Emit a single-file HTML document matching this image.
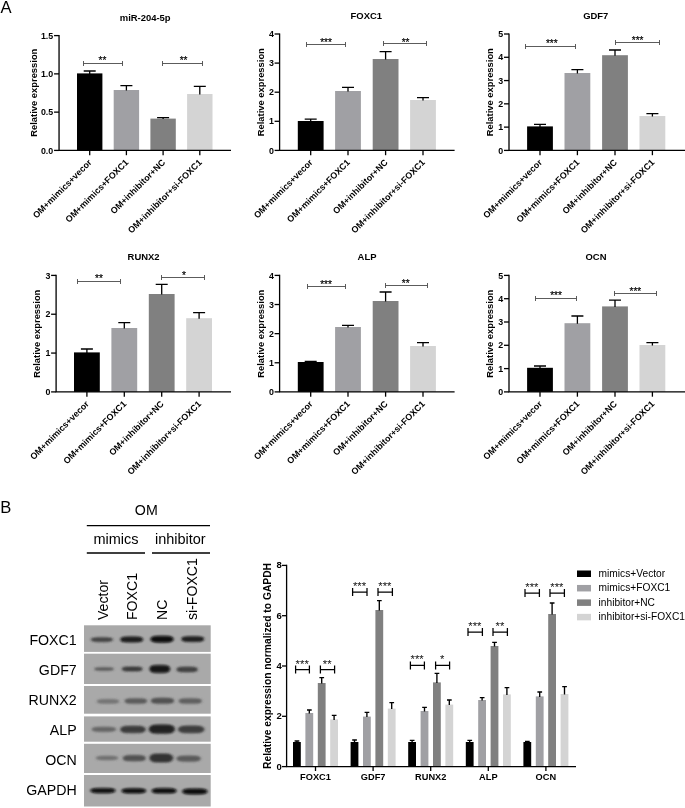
<!DOCTYPE html>
<html lang="en"><head><meta charset="utf-8"><title>Figure</title>
<style>
html,body{margin:0;padding:0;background:#fff;}
body{width:685px;height:808px;overflow:hidden;}
svg{display:block;}
text{font-family:"Liberation Sans", sans-serif;fill:#000;}
.b{font-weight:bold;}
.r{font-weight:normal;}
.s{font-weight:normal;fill:#000;stroke:#000;stroke-width:0.18px;}
.s2{font-weight:normal;fill:#111;}
</style></head><body>
<svg width="685" height="808" viewBox="0 0 685 808">
<defs><filter id="bl" x="-5%" y="-5%" width="110%" height="110%"><feGaussianBlur stdDeviation="1.0 0.85"/></filter><filter id="bl2" x="-5%" y="-5%" width="110%" height="110%"><feGaussianBlur stdDeviation="1.6 1.2"/></filter></defs>
<rect width="685" height="808" fill="#fff"/>
<rect x="77.00" y="73.40" width="25.40" height="77.00" fill="#000000"/>
<path d="M89.70 73.90V71.00M83.70 71.00H95.70" stroke="#000" stroke-width="1.3" fill="none"/>
<rect x="113.70" y="90.00" width="25.40" height="60.40" fill="#a0a0a4"/>
<path d="M126.40 90.50V85.60M120.40 85.60H132.40" stroke="#000" stroke-width="1.3" fill="none"/>
<rect x="150.40" y="118.60" width="25.40" height="31.80" fill="#808080"/>
<path d="M163.10 119.10V117.60M157.10 117.60H169.10" stroke="#000" stroke-width="1.3" fill="none"/>
<rect x="187.10" y="94.00" width="25.40" height="56.40" fill="#d4d4d4"/>
<path d="M199.80 94.50V86.40M193.80 86.40H205.80" stroke="#000" stroke-width="1.3" fill="none"/>
<path d="M59.05 35.00V150.40M58.40 150.40H231.00" stroke="#000" stroke-width="1.3" fill="none"/>
<path d="M54.05 150.40H59.05" stroke="#000" stroke-width="1.3"/>
<text x="53.25" y="153.50" text-anchor="end" class="b" font-size="8.85">0.0</text>
<path d="M54.05 112.13H59.05" stroke="#000" stroke-width="1.3"/>
<text x="53.25" y="115.23" text-anchor="end" class="b" font-size="8.85">0.5</text>
<path d="M54.05 73.87H59.05" stroke="#000" stroke-width="1.3"/>
<text x="53.25" y="76.97" text-anchor="end" class="b" font-size="8.85">1.0</text>
<path d="M54.05 35.60H59.05" stroke="#000" stroke-width="1.3"/>
<text x="53.25" y="38.70" text-anchor="end" class="b" font-size="8.85">1.5</text>
<path d="M89.70 150.40V155.20" stroke="#000" stroke-width="1.3"/>
<path d="M126.40 150.40V155.20" stroke="#000" stroke-width="1.3"/>
<path d="M163.10 150.40V155.20" stroke="#000" stroke-width="1.3"/>
<path d="M199.80 150.40V155.20" stroke="#000" stroke-width="1.3"/>
<text transform="translate(92.30,163.00) rotate(-45)" text-anchor="end" class="b" font-size="8.9">OM+mimics+vecor</text>
<text transform="translate(129.00,163.00) rotate(-45)" text-anchor="end" class="b" font-size="8.9">OM+mimics+FOXC1</text>
<text transform="translate(165.70,163.00) rotate(-45)" text-anchor="end" class="b" font-size="8.9">OM+inhibitor+NC</text>
<text transform="translate(202.40,163.00) rotate(-45)" text-anchor="end" class="b" font-size="8.9">OM+inhibitor+si-FOXC1</text>
<text transform="translate(36.70,92.70) rotate(-90)" text-anchor="middle" class="b" font-size="9.4">Relative expression</text>
<text x="145.20" y="21.20" text-anchor="middle" class="b" font-size="9.45">miR-204-5p</text>
<path d="M83.50 63.50H122.50M83.50 61.00V66.00M122.50 61.00V66.00" stroke="#4a4a4a" stroke-width="0.9" fill="none"/>
<text x="102.40" y="63.77" text-anchor="middle" class="s" font-size="10">**</text>
<path d="M162.50 63.50H202.50M162.50 61.00V66.00M202.50 61.00V66.00" stroke="#4a4a4a" stroke-width="0.9" fill="none"/>
<text x="183.60" y="63.77" text-anchor="middle" class="s" font-size="10">**</text>
<rect x="297.80" y="121.00" width="25.80" height="29.40" fill="#000000"/>
<path d="M310.70 121.50V119.20M304.70 119.20H316.70" stroke="#000" stroke-width="1.3" fill="none"/>
<rect x="335.10" y="91.00" width="25.80" height="59.40" fill="#a0a0a4"/>
<path d="M348.00 91.50V87.40M342.00 87.40H354.00" stroke="#000" stroke-width="1.3" fill="none"/>
<rect x="372.70" y="59.00" width="25.80" height="91.40" fill="#808080"/>
<path d="M385.60 59.50V51.60M379.60 51.60H391.60" stroke="#000" stroke-width="1.3" fill="none"/>
<rect x="410.10" y="100.00" width="25.80" height="50.40" fill="#d4d4d4"/>
<path d="M423.00 100.50V97.60M417.00 97.60H429.00" stroke="#000" stroke-width="1.3" fill="none"/>
<path d="M279.60 33.40V150.40M278.95 150.40H454.60" stroke="#000" stroke-width="1.3" fill="none"/>
<path d="M274.60 150.40H279.60" stroke="#000" stroke-width="1.3"/>
<text x="273.80" y="153.50" text-anchor="end" class="b" font-size="8.85">0</text>
<path d="M274.60 121.30H279.60" stroke="#000" stroke-width="1.3"/>
<text x="273.80" y="124.40" text-anchor="end" class="b" font-size="8.85">1</text>
<path d="M274.60 92.20H279.60" stroke="#000" stroke-width="1.3"/>
<text x="273.80" y="95.30" text-anchor="end" class="b" font-size="8.85">2</text>
<path d="M274.60 63.10H279.60" stroke="#000" stroke-width="1.3"/>
<text x="273.80" y="66.20" text-anchor="end" class="b" font-size="8.85">3</text>
<path d="M274.60 34.00H279.60" stroke="#000" stroke-width="1.3"/>
<text x="273.80" y="37.10" text-anchor="end" class="b" font-size="8.85">4</text>
<path d="M310.70 150.40V155.20" stroke="#000" stroke-width="1.3"/>
<path d="M348.00 150.40V155.20" stroke="#000" stroke-width="1.3"/>
<path d="M385.60 150.40V155.20" stroke="#000" stroke-width="1.3"/>
<path d="M423.00 150.40V155.20" stroke="#000" stroke-width="1.3"/>
<text transform="translate(313.30,163.00) rotate(-45)" text-anchor="end" class="b" font-size="8.9">OM+mimics+vecor</text>
<text transform="translate(350.60,163.00) rotate(-45)" text-anchor="end" class="b" font-size="8.9">OM+mimics+FOXC1</text>
<text transform="translate(388.20,163.00) rotate(-45)" text-anchor="end" class="b" font-size="8.9">OM+inhibitor+NC</text>
<text transform="translate(425.60,163.00) rotate(-45)" text-anchor="end" class="b" font-size="8.9">OM+inhibitor+si-FOXC1</text>
<text transform="translate(264.30,92.20) rotate(-90)" text-anchor="middle" class="b" font-size="9.4">Relative expression</text>
<text x="366.30" y="19.00" text-anchor="middle" class="b" font-size="9.45">FOXC1</text>
<path d="M306.50 44.50H345.50M306.50 42.00V47.00M345.50 42.00V47.00" stroke="#4a4a4a" stroke-width="0.9" fill="none"/>
<text x="326.00" y="46.38" text-anchor="middle" class="s" font-size="10">***</text>
<path d="M383.50 43.50H426.50M383.50 41.00V46.00M426.50 41.00V46.00" stroke="#4a4a4a" stroke-width="0.9" fill="none"/>
<text x="405.60" y="45.88" text-anchor="middle" class="s" font-size="10">**</text>
<rect x="527.10" y="126.40" width="25.80" height="24.00" fill="#000000"/>
<path d="M540.00 126.90V124.40M534.00 124.40H546.00" stroke="#000" stroke-width="1.3" fill="none"/>
<rect x="564.50" y="73.00" width="25.80" height="77.40" fill="#a0a0a4"/>
<path d="M577.40 73.50V69.60M571.40 69.60H583.40" stroke="#000" stroke-width="1.3" fill="none"/>
<rect x="602.10" y="55.20" width="25.80" height="95.20" fill="#808080"/>
<path d="M615.00 55.70V50.00M609.00 50.00H621.00" stroke="#000" stroke-width="1.3" fill="none"/>
<rect x="639.50" y="116.00" width="25.80" height="34.40" fill="#d4d4d4"/>
<path d="M652.40 116.50V113.60M646.40 113.60H658.40" stroke="#000" stroke-width="1.3" fill="none"/>
<path d="M509.00 33.40V150.40M508.35 150.40H685.00" stroke="#000" stroke-width="1.3" fill="none"/>
<path d="M504.00 150.40H509.00" stroke="#000" stroke-width="1.3"/>
<text x="503.20" y="153.50" text-anchor="end" class="b" font-size="8.85">0</text>
<path d="M504.00 127.12H509.00" stroke="#000" stroke-width="1.3"/>
<text x="503.20" y="130.22" text-anchor="end" class="b" font-size="8.85">1</text>
<path d="M504.00 103.84H509.00" stroke="#000" stroke-width="1.3"/>
<text x="503.20" y="106.94" text-anchor="end" class="b" font-size="8.85">2</text>
<path d="M504.00 80.56H509.00" stroke="#000" stroke-width="1.3"/>
<text x="503.20" y="83.66" text-anchor="end" class="b" font-size="8.85">3</text>
<path d="M504.00 57.28H509.00" stroke="#000" stroke-width="1.3"/>
<text x="503.20" y="60.38" text-anchor="end" class="b" font-size="8.85">4</text>
<path d="M504.00 34.00H509.00" stroke="#000" stroke-width="1.3"/>
<text x="503.20" y="37.10" text-anchor="end" class="b" font-size="8.85">5</text>
<path d="M540.00 150.40V155.20" stroke="#000" stroke-width="1.3"/>
<path d="M577.40 150.40V155.20" stroke="#000" stroke-width="1.3"/>
<path d="M615.00 150.40V155.20" stroke="#000" stroke-width="1.3"/>
<path d="M652.40 150.40V155.20" stroke="#000" stroke-width="1.3"/>
<text transform="translate(542.60,163.00) rotate(-45)" text-anchor="end" class="b" font-size="8.9">OM+mimics+vecor</text>
<text transform="translate(580.00,163.00) rotate(-45)" text-anchor="end" class="b" font-size="8.9">OM+mimics+FOXC1</text>
<text transform="translate(617.60,163.00) rotate(-45)" text-anchor="end" class="b" font-size="8.9">OM+inhibitor+NC</text>
<text transform="translate(655.00,163.00) rotate(-45)" text-anchor="end" class="b" font-size="8.9">OM+inhibitor+si-FOXC1</text>
<text transform="translate(493.30,92.20) rotate(-90)" text-anchor="middle" class="b" font-size="9.4">Relative expression</text>
<text x="595.80" y="19.00" text-anchor="middle" class="b" font-size="9.45">GDF7</text>
<path d="M525.50 46.50H575.50M525.50 44.00V49.00M575.50 44.00V49.00" stroke="#4a4a4a" stroke-width="0.9" fill="none"/>
<text x="551.80" y="46.77" text-anchor="middle" class="s" font-size="10">***</text>
<path d="M615.50 42.50H659.50M615.50 40.00V45.00M659.50 40.00V45.00" stroke="#4a4a4a" stroke-width="0.9" fill="none"/>
<text x="637.60" y="44.38" text-anchor="middle" class="s" font-size="10">***</text>
<rect x="74.00" y="352.40" width="25.80" height="39.50" fill="#000000"/>
<path d="M86.90 352.90V349.00M80.90 349.00H92.90" stroke="#000" stroke-width="1.3" fill="none"/>
<rect x="111.40" y="328.00" width="25.80" height="63.90" fill="#a0a0a4"/>
<path d="M124.30 328.50V322.60M118.30 322.60H130.30" stroke="#000" stroke-width="1.3" fill="none"/>
<rect x="148.80" y="294.00" width="25.80" height="97.90" fill="#808080"/>
<path d="M161.70 294.50V284.40M155.70 284.40H167.70" stroke="#000" stroke-width="1.3" fill="none"/>
<rect x="186.20" y="318.20" width="25.80" height="73.70" fill="#d4d4d4"/>
<path d="M199.10 318.70V312.60M193.10 312.60H205.10" stroke="#000" stroke-width="1.3" fill="none"/>
<path d="M56.10 274.80V391.90M55.45 391.90H231.00" stroke="#000" stroke-width="1.3" fill="none"/>
<path d="M51.10 391.90H56.10" stroke="#000" stroke-width="1.3"/>
<text x="50.30" y="395.00" text-anchor="end" class="b" font-size="8.85">0</text>
<path d="M51.10 353.07H56.10" stroke="#000" stroke-width="1.3"/>
<text x="50.30" y="356.17" text-anchor="end" class="b" font-size="8.85">1</text>
<path d="M51.10 314.23H56.10" stroke="#000" stroke-width="1.3"/>
<text x="50.30" y="317.33" text-anchor="end" class="b" font-size="8.85">2</text>
<path d="M51.10 275.40H56.10" stroke="#000" stroke-width="1.3"/>
<text x="50.30" y="278.50" text-anchor="end" class="b" font-size="8.85">3</text>
<path d="M86.90 391.90V396.70" stroke="#000" stroke-width="1.3"/>
<path d="M124.30 391.90V396.70" stroke="#000" stroke-width="1.3"/>
<path d="M161.70 391.90V396.70" stroke="#000" stroke-width="1.3"/>
<path d="M199.10 391.90V396.70" stroke="#000" stroke-width="1.3"/>
<text transform="translate(89.50,404.50) rotate(-45)" text-anchor="end" class="b" font-size="8.9">OM+mimics+vecor</text>
<text transform="translate(126.90,404.50) rotate(-45)" text-anchor="end" class="b" font-size="8.9">OM+mimics+FOXC1</text>
<text transform="translate(164.30,404.50) rotate(-45)" text-anchor="end" class="b" font-size="8.9">OM+inhibitor+NC</text>
<text transform="translate(201.70,404.50) rotate(-45)" text-anchor="end" class="b" font-size="8.9">OM+inhibitor+si-FOXC1</text>
<text transform="translate(40.30,333.70) rotate(-90)" text-anchor="middle" class="b" font-size="9.4">Relative expression</text>
<text x="143.60" y="260.00" text-anchor="middle" class="b" font-size="9.45">RUNX2</text>
<path d="M77.50 281.50H120.50M77.50 279.00V284.00M120.50 279.00V284.00" stroke="#4a4a4a" stroke-width="0.9" fill="none"/>
<text x="99.00" y="281.88" text-anchor="middle" class="s" font-size="10">**</text>
<path d="M161.50 277.50H204.50M161.50 275.00V280.00M204.50 275.00V280.00" stroke="#4a4a4a" stroke-width="0.9" fill="none"/>
<text x="184.00" y="278.57" text-anchor="middle" class="s" font-size="10">*</text>
<rect x="297.80" y="362.00" width="25.80" height="29.90" fill="#000000"/>
<path d="M310.70 362.50V361.40M304.70 361.40H316.70" stroke="#000" stroke-width="1.3" fill="none"/>
<rect x="335.10" y="327.00" width="25.80" height="64.90" fill="#a0a0a4"/>
<path d="M348.00 327.50V325.40M342.00 325.40H354.00" stroke="#000" stroke-width="1.3" fill="none"/>
<rect x="372.70" y="301.00" width="25.80" height="90.90" fill="#808080"/>
<path d="M385.60 301.50V292.00M379.60 292.00H391.60" stroke="#000" stroke-width="1.3" fill="none"/>
<rect x="410.10" y="346.00" width="25.80" height="45.90" fill="#d4d4d4"/>
<path d="M423.00 346.50V342.60M417.00 342.60H429.00" stroke="#000" stroke-width="1.3" fill="none"/>
<path d="M279.60 274.80V391.90M278.95 391.90H454.60" stroke="#000" stroke-width="1.3" fill="none"/>
<path d="M274.60 391.90H279.60" stroke="#000" stroke-width="1.3"/>
<text x="273.80" y="395.00" text-anchor="end" class="b" font-size="8.85">0</text>
<path d="M274.60 362.77H279.60" stroke="#000" stroke-width="1.3"/>
<text x="273.80" y="365.88" text-anchor="end" class="b" font-size="8.85">1</text>
<path d="M274.60 333.65H279.60" stroke="#000" stroke-width="1.3"/>
<text x="273.80" y="336.75" text-anchor="end" class="b" font-size="8.85">2</text>
<path d="M274.60 304.52H279.60" stroke="#000" stroke-width="1.3"/>
<text x="273.80" y="307.62" text-anchor="end" class="b" font-size="8.85">3</text>
<path d="M274.60 275.40H279.60" stroke="#000" stroke-width="1.3"/>
<text x="273.80" y="278.50" text-anchor="end" class="b" font-size="8.85">4</text>
<path d="M310.70 391.90V396.70" stroke="#000" stroke-width="1.3"/>
<path d="M348.00 391.90V396.70" stroke="#000" stroke-width="1.3"/>
<path d="M385.60 391.90V396.70" stroke="#000" stroke-width="1.3"/>
<path d="M423.00 391.90V396.70" stroke="#000" stroke-width="1.3"/>
<text transform="translate(313.30,404.50) rotate(-45)" text-anchor="end" class="b" font-size="8.9">OM+mimics+vecor</text>
<text transform="translate(350.60,404.50) rotate(-45)" text-anchor="end" class="b" font-size="8.9">OM+mimics+FOXC1</text>
<text transform="translate(388.20,404.50) rotate(-45)" text-anchor="end" class="b" font-size="8.9">OM+inhibitor+NC</text>
<text transform="translate(425.60,404.50) rotate(-45)" text-anchor="end" class="b" font-size="8.9">OM+inhibitor+si-FOXC1</text>
<text transform="translate(264.30,333.70) rotate(-90)" text-anchor="middle" class="b" font-size="9.4">Relative expression</text>
<text x="367.00" y="260.00" text-anchor="middle" class="b" font-size="9.45">ALP</text>
<path d="M307.50 286.50H345.50M307.50 284.00V289.00M345.50 284.00V289.00" stroke="#4a4a4a" stroke-width="0.9" fill="none"/>
<text x="326.00" y="287.77" text-anchor="middle" class="s" font-size="10">***</text>
<path d="M385.50 285.50H427.50M385.50 283.00V288.00M427.50 283.00V288.00" stroke="#4a4a4a" stroke-width="0.9" fill="none"/>
<text x="405.70" y="286.98" text-anchor="middle" class="s" font-size="10">**</text>
<rect x="527.10" y="367.80" width="25.80" height="24.10" fill="#000000"/>
<path d="M540.00 368.30V366.00M534.00 366.00H546.00" stroke="#000" stroke-width="1.3" fill="none"/>
<rect x="564.50" y="323.20" width="25.80" height="68.70" fill="#a0a0a4"/>
<path d="M577.40 323.70V316.00M571.40 316.00H583.40" stroke="#000" stroke-width="1.3" fill="none"/>
<rect x="602.10" y="306.40" width="25.80" height="85.50" fill="#808080"/>
<path d="M615.00 306.90V300.20M609.00 300.20H621.00" stroke="#000" stroke-width="1.3" fill="none"/>
<rect x="639.50" y="345.00" width="25.80" height="46.90" fill="#d4d4d4"/>
<path d="M652.40 345.50V342.60M646.40 342.60H658.40" stroke="#000" stroke-width="1.3" fill="none"/>
<path d="M509.00 274.80V391.90M508.35 391.90H685.00" stroke="#000" stroke-width="1.3" fill="none"/>
<path d="M504.00 391.90H509.00" stroke="#000" stroke-width="1.3"/>
<text x="503.20" y="395.00" text-anchor="end" class="b" font-size="8.85">0</text>
<path d="M504.00 368.60H509.00" stroke="#000" stroke-width="1.3"/>
<text x="503.20" y="371.70" text-anchor="end" class="b" font-size="8.85">1</text>
<path d="M504.00 345.30H509.00" stroke="#000" stroke-width="1.3"/>
<text x="503.20" y="348.40" text-anchor="end" class="b" font-size="8.85">2</text>
<path d="M504.00 322.00H509.00" stroke="#000" stroke-width="1.3"/>
<text x="503.20" y="325.10" text-anchor="end" class="b" font-size="8.85">3</text>
<path d="M504.00 298.70H509.00" stroke="#000" stroke-width="1.3"/>
<text x="503.20" y="301.80" text-anchor="end" class="b" font-size="8.85">4</text>
<path d="M504.00 275.40H509.00" stroke="#000" stroke-width="1.3"/>
<text x="503.20" y="278.50" text-anchor="end" class="b" font-size="8.85">5</text>
<path d="M540.00 391.90V396.70" stroke="#000" stroke-width="1.3"/>
<path d="M577.40 391.90V396.70" stroke="#000" stroke-width="1.3"/>
<path d="M615.00 391.90V396.70" stroke="#000" stroke-width="1.3"/>
<path d="M652.40 391.90V396.70" stroke="#000" stroke-width="1.3"/>
<text transform="translate(542.60,404.50) rotate(-45)" text-anchor="end" class="b" font-size="8.9">OM+mimics+vecor</text>
<text transform="translate(580.00,404.50) rotate(-45)" text-anchor="end" class="b" font-size="8.9">OM+mimics+FOXC1</text>
<text transform="translate(617.60,404.50) rotate(-45)" text-anchor="end" class="b" font-size="8.9">OM+inhibitor+NC</text>
<text transform="translate(655.00,404.50) rotate(-45)" text-anchor="end" class="b" font-size="8.9">OM+inhibitor+si-FOXC1</text>
<text transform="translate(493.30,333.70) rotate(-90)" text-anchor="middle" class="b" font-size="9.4">Relative expression</text>
<text x="596.00" y="260.00" text-anchor="middle" class="b" font-size="9.45">OCN</text>
<path d="M535.50 298.50H576.50M535.50 296.00V301.00M576.50 296.00V301.00" stroke="#4a4a4a" stroke-width="0.9" fill="none"/>
<text x="556.00" y="299.27" text-anchor="middle" class="s" font-size="10">***</text>
<path d="M614.50 293.50H656.50M614.50 291.00V296.00M656.50 291.00V296.00" stroke="#4a4a4a" stroke-width="0.9" fill="none"/>
<text x="635.40" y="294.57" text-anchor="middle" class="s" font-size="10">***</text>
<text x="0.5" y="12.8" font-size="16.6" class="r">A</text>
<text x="0.3" y="513.0" font-size="16.6" class="r">B</text>
<text x="146.3" y="515.4" text-anchor="middle" class="r" font-size="14.2">OM</text>
<path d="M86.8 525.6H210M86.8 553H145M152 553H210" stroke="#000" stroke-width="1.35"/>
<text x="116" y="544.4" text-anchor="middle" class="r" font-size="14.5">mimics</text>
<text x="180.3" y="544.4" text-anchor="middle" class="r" font-size="14.5">inhibitor</text>
<text transform="translate(108.2,620) rotate(-90)" class="r" font-size="14.1">Vector</text>
<text transform="translate(137.4,620) rotate(-90)" class="r" font-size="14.1">FOXC1</text>
<text transform="translate(166.6,620) rotate(-90)" class="r" font-size="14.1">NC</text>
<text transform="translate(197.2,620) rotate(-90)" class="r" font-size="14.1">si-FOXC1</text>
<text x="76.7" y="645" text-anchor="end" class="r" font-size="14.2">FOXC1</text>
<text x="76.7" y="675" text-anchor="end" class="r" font-size="14.2">GDF7</text>
<text x="76.7" y="705" text-anchor="end" class="r" font-size="14.2">RUNX2</text>
<text x="76.7" y="735" text-anchor="end" class="r" font-size="14.2">ALP</text>
<text x="76.7" y="765" text-anchor="end" class="r" font-size="14.2">OCN</text>
<text x="76.7" y="795" text-anchor="end" class="r" font-size="14.2">GAPDH</text>
<rect x="84" y="625.3" width="126.69999999999999" height="26.60" fill="#a9a9a9"/>
<rect x="84" y="653.7" width="126.69999999999999" height="30.30" fill="#a9a9a9"/>
<rect x="84" y="686" width="126.69999999999999" height="27.70" fill="#a9a9a9"/>
<rect x="84" y="716.4" width="126.69999999999999" height="25.30" fill="#a9a9a9"/>
<rect x="84" y="743.8" width="126.69999999999999" height="29.20" fill="#a9a9a9"/>
<rect x="84" y="775" width="126.69999999999999" height="31.50" fill="#a9a9a9"/>
<g filter="url(#bl2)">
<ellipse cx="101.90" cy="639.60" rx="11.50" ry="2.60" fill="#3a3a3a" opacity="0.41"/>
<ellipse cx="131.65" cy="639.40" rx="11.85" ry="3.30" fill="#1c1c1c" opacity="0.45"/>
<ellipse cx="162.05" cy="639.20" rx="12.05" ry="3.75" fill="#111" opacity="0.45"/>
<ellipse cx="192.75" cy="639.10" rx="11.85" ry="3.20" fill="#1e1e1e" opacity="0.45"/>
<ellipse cx="104.10" cy="669.00" rx="10.30" ry="2.00" fill="#4a4a4a" opacity="0.36"/>
<ellipse cx="132.20" cy="669.00" rx="10.80" ry="2.70" fill="#333" opacity="0.41"/>
<ellipse cx="159.80" cy="669.00" rx="10.80" ry="4.20" fill="#181818" opacity="0.45"/>
<ellipse cx="187.10" cy="669.40" rx="11.10" ry="3.05" fill="#383838" opacity="0.41"/>
<ellipse cx="108.00" cy="701.40" rx="11.60" ry="2.60" fill="#6a6a6a" opacity="0.36"/>
<ellipse cx="135.85" cy="701.00" rx="11.75" ry="3.10" fill="#555" opacity="0.41"/>
<ellipse cx="162.50" cy="700.80" rx="12.10" ry="3.30" fill="#4a4a4a" opacity="0.41"/>
<ellipse cx="190.25" cy="701.00" rx="12.05" ry="3.10" fill="#5a5a5a" opacity="0.41"/>
<ellipse cx="103.85" cy="729.30" rx="12.65" ry="2.90" fill="#5e5e5e" opacity="0.38"/>
<ellipse cx="132.95" cy="729.40" rx="13.15" ry="4.00" fill="#363636" opacity="0.43"/>
<ellipse cx="161.85" cy="729.20" rx="13.45" ry="4.90" fill="#222" opacity="0.45"/>
<ellipse cx="191.20" cy="729.40" rx="13.60" ry="4.10" fill="#3a3a3a" opacity="0.43"/>
<ellipse cx="107.00" cy="758.00" rx="11.60" ry="2.50" fill="#666" opacity="0.36"/>
<ellipse cx="134.25" cy="758.20" rx="11.85" ry="3.40" fill="#4a4a4a" opacity="0.41"/>
<ellipse cx="161.30" cy="758.00" rx="12.30" ry="4.80" fill="#303030" opacity="0.43"/>
<ellipse cx="188.65" cy="758.60" rx="12.65" ry="3.40" fill="#555" opacity="0.41"/>
<ellipse cx="102.90" cy="790.60" rx="13.20" ry="2.95" fill="#111" opacity="0.45"/>
<ellipse cx="133.80" cy="790.80" rx="12.80" ry="2.95" fill="#111" opacity="0.45"/>
<ellipse cx="164.10" cy="790.80" rx="13.10" ry="3.05" fill="#111" opacity="0.45"/>
<ellipse cx="194.85" cy="791.40" rx="13.15" ry="3.30" fill="#111" opacity="0.45"/>
</g>
<g filter="url(#bl)">
<rect x="91.30" y="637.80" width="21.20" height="3.60" rx="4.80" ry="1.80" fill="#3a3a3a" opacity="0.9"/>
<rect x="120.70" y="636.90" width="21.90" height="5.00" rx="4.95" ry="2.50" fill="#1c1c1c" opacity="1"/>
<rect x="150.90" y="636.25" width="22.30" height="5.90" rx="5.04" ry="2.95" fill="#111" opacity="1"/>
<rect x="181.80" y="636.70" width="21.90" height="4.80" rx="4.95" ry="2.40" fill="#1e1e1e" opacity="1"/>
<rect x="94.70" y="667.80" width="18.80" height="2.40" rx="4.27" ry="1.20" fill="#4a4a4a" opacity="0.8"/>
<rect x="122.30" y="667.10" width="19.80" height="3.80" rx="4.49" ry="1.90" fill="#333" opacity="0.9"/>
<rect x="149.90" y="665.60" width="19.80" height="6.80" rx="4.49" ry="3.40" fill="#181818" opacity="1"/>
<rect x="176.90" y="667.15" width="20.40" height="4.50" rx="4.62" ry="2.25" fill="#383838" opacity="0.9"/>
<rect x="97.30" y="699.60" width="21.40" height="3.60" rx="4.84" ry="1.80" fill="#6a6a6a" opacity="0.8"/>
<rect x="125.00" y="698.70" width="21.70" height="4.60" rx="4.91" ry="2.30" fill="#555" opacity="0.9"/>
<rect x="151.30" y="698.30" width="22.40" height="5.00" rx="5.06" ry="2.50" fill="#4a4a4a" opacity="0.9"/>
<rect x="179.10" y="698.70" width="22.30" height="4.60" rx="5.04" ry="2.30" fill="#5a5a5a" opacity="0.9"/>
<rect x="92.10" y="727.20" width="23.50" height="4.20" rx="5.30" ry="2.10" fill="#5e5e5e" opacity="0.85"/>
<rect x="120.70" y="726.20" width="24.50" height="6.40" rx="5.52" ry="3.20" fill="#363636" opacity="0.95"/>
<rect x="149.30" y="725.10" width="25.10" height="8.20" rx="5.65" ry="4.10" fill="#222" opacity="1"/>
<rect x="178.50" y="726.10" width="25.40" height="6.60" rx="5.72" ry="3.30" fill="#3a3a3a" opacity="0.95"/>
<rect x="96.30" y="756.30" width="21.40" height="3.40" rx="4.84" ry="1.70" fill="#666" opacity="0.8"/>
<rect x="123.30" y="755.60" width="21.90" height="5.20" rx="4.95" ry="2.60" fill="#4a4a4a" opacity="0.9"/>
<rect x="149.90" y="754.00" width="22.80" height="8.00" rx="5.15" ry="4.00" fill="#303030" opacity="0.95"/>
<rect x="176.90" y="756.00" width="23.50" height="5.20" rx="5.30" ry="2.60" fill="#555" opacity="0.9"/>
<rect x="90.60" y="788.45" width="24.60" height="4.30" rx="5.54" ry="2.15" fill="#111" opacity="1"/>
<rect x="121.90" y="788.65" width="23.80" height="4.30" rx="5.37" ry="2.15" fill="#111" opacity="1"/>
<rect x="151.90" y="788.55" width="24.40" height="4.50" rx="5.50" ry="2.25" fill="#111" opacity="1"/>
<rect x="182.60" y="788.90" width="24.50" height="5.00" rx="5.52" ry="2.50" fill="#111" opacity="1"/>
</g>
<rect x="293.00" y="742.00" width="7.8" height="24.60" fill="#000000"/>
<path d="M296.90 742.50V741.00M294.60 741.00H299.30" stroke="#000" stroke-width="1.35" fill="none"/>
<rect x="305.40" y="713.00" width="7.8" height="53.60" fill="#a0a0a4"/>
<path d="M309.30 713.50V710.00M307.00 710.00H311.70" stroke="#000" stroke-width="1.35" fill="none"/>
<rect x="317.80" y="683.00" width="7.8" height="83.60" fill="#808080"/>
<path d="M321.70 683.50V677.60M319.40 677.60H324.10" stroke="#000" stroke-width="1.35" fill="none"/>
<rect x="330.20" y="719.40" width="7.8" height="47.20" fill="#d4d4d4"/>
<path d="M334.10 719.90V715.40M331.80 715.40H336.50" stroke="#000" stroke-width="1.35" fill="none"/>
<path d="M315.50 766.60V771.00" stroke="#000" stroke-width="1.3"/>
<text transform="translate(315.50,779.7) scale(0.935,1)" text-anchor="middle" class="b" font-size="9.9">FOXC1</text>
<rect x="350.60" y="742.00" width="7.8" height="24.60" fill="#000000"/>
<path d="M354.50 742.50V740.00M352.20 740.00H356.90" stroke="#000" stroke-width="1.35" fill="none"/>
<rect x="363.00" y="716.60" width="7.8" height="50.00" fill="#a0a0a4"/>
<path d="M366.90 717.10V712.40M364.60 712.40H369.30" stroke="#000" stroke-width="1.35" fill="none"/>
<rect x="375.40" y="610.00" width="7.8" height="156.60" fill="#808080"/>
<path d="M379.30 610.50V600.60M377.00 600.60H381.70" stroke="#000" stroke-width="1.35" fill="none"/>
<rect x="387.80" y="708.60" width="7.8" height="58.00" fill="#d4d4d4"/>
<path d="M391.70 709.10V702.60M389.40 702.60H394.10" stroke="#000" stroke-width="1.35" fill="none"/>
<path d="M373.10 766.60V771.00" stroke="#000" stroke-width="1.3"/>
<text transform="translate(373.10,779.7) scale(0.935,1)" text-anchor="middle" class="b" font-size="9.9">GDF7</text>
<rect x="408.20" y="742.00" width="7.8" height="24.60" fill="#000000"/>
<path d="M412.10 742.50V740.40M409.80 740.40H414.50" stroke="#000" stroke-width="1.35" fill="none"/>
<rect x="420.60" y="711.00" width="7.8" height="55.60" fill="#a0a0a4"/>
<path d="M424.50 711.50V707.40M422.20 707.40H426.90" stroke="#000" stroke-width="1.35" fill="none"/>
<rect x="433.00" y="682.40" width="7.8" height="84.20" fill="#808080"/>
<path d="M436.90 682.90V673.40M434.60 673.40H439.30" stroke="#000" stroke-width="1.35" fill="none"/>
<rect x="445.40" y="704.60" width="7.8" height="62.00" fill="#d4d4d4"/>
<path d="M449.30 705.10V700.00M447.00 700.00H451.70" stroke="#000" stroke-width="1.35" fill="none"/>
<path d="M430.70 766.60V771.00" stroke="#000" stroke-width="1.3"/>
<text transform="translate(430.70,779.7) scale(0.935,1)" text-anchor="middle" class="b" font-size="9.9">RUNX2</text>
<rect x="465.80" y="742.00" width="7.8" height="24.60" fill="#000000"/>
<path d="M469.70 742.50V740.40M467.40 740.40H472.10" stroke="#000" stroke-width="1.35" fill="none"/>
<rect x="478.20" y="700.00" width="7.8" height="66.60" fill="#a0a0a4"/>
<path d="M482.10 700.50V697.60M479.80 697.60H484.50" stroke="#000" stroke-width="1.35" fill="none"/>
<rect x="490.60" y="646.00" width="7.8" height="120.60" fill="#808080"/>
<path d="M494.50 646.50V642.40M492.20 642.40H496.90" stroke="#000" stroke-width="1.35" fill="none"/>
<rect x="503.00" y="694.40" width="7.8" height="72.20" fill="#d4d4d4"/>
<path d="M506.90 694.90V687.60M504.60 687.60H509.30" stroke="#000" stroke-width="1.35" fill="none"/>
<path d="M488.30 766.60V771.00" stroke="#000" stroke-width="1.3"/>
<text transform="translate(488.30,779.7) scale(0.935,1)" text-anchor="middle" class="b" font-size="9.9">ALP</text>
<rect x="523.40" y="742.00" width="7.8" height="24.60" fill="#000000"/>
<path d="M527.30 742.50V741.40M525.00 741.40H529.70" stroke="#000" stroke-width="1.35" fill="none"/>
<rect x="535.80" y="696.40" width="7.8" height="70.20" fill="#a0a0a4"/>
<path d="M539.70 696.90V692.00M537.40 692.00H542.10" stroke="#000" stroke-width="1.35" fill="none"/>
<rect x="548.20" y="614.00" width="7.8" height="152.60" fill="#808080"/>
<path d="M552.10 614.50V603.00M549.80 603.00H554.50" stroke="#000" stroke-width="1.35" fill="none"/>
<rect x="560.60" y="694.00" width="7.8" height="72.60" fill="#d4d4d4"/>
<path d="M564.50 694.50V686.60M562.20 686.60H566.90" stroke="#000" stroke-width="1.35" fill="none"/>
<path d="M545.90 766.60V771.00" stroke="#000" stroke-width="1.3"/>
<text transform="translate(545.90,779.7) scale(0.935,1)" text-anchor="middle" class="b" font-size="9.9">OCN</text>
<path d="M286.6 564.8V766.6M285.95000000000005 766.6H576" stroke="#000" stroke-width="1.3" fill="none"/>
<path d="M282.00 766.60H286.6" stroke="#000" stroke-width="1.3"/>
<text x="281.80" y="769.50" text-anchor="end" class="b" font-size="9.5">0</text>
<path d="M282.00 716.30H286.6" stroke="#000" stroke-width="1.3"/>
<text x="281.80" y="719.20" text-anchor="end" class="b" font-size="9.5">2</text>
<path d="M282.00 666.00H286.6" stroke="#000" stroke-width="1.3"/>
<text x="281.80" y="668.90" text-anchor="end" class="b" font-size="9.5">4</text>
<path d="M282.00 615.70H286.6" stroke="#000" stroke-width="1.3"/>
<text x="281.80" y="618.60" text-anchor="end" class="b" font-size="9.5">6</text>
<path d="M282.00 565.40H286.6" stroke="#000" stroke-width="1.3"/>
<text x="281.80" y="568.30" text-anchor="end" class="b" font-size="9.5">8</text>
<text transform="translate(270.6,666) rotate(-90)" text-anchor="middle" class="b" font-size="10.27">Relative expression normalized to GAPDH</text>
<path d="M295.60 669.60H309.40M295.60 665.60V673.60M309.40 665.60V673.60" stroke="#000" stroke-width="1.25" fill="none"/>
<text x="302.20" y="667.50" text-anchor="middle" class="s2" font-size="11.3">***</text>
<path d="M320.40 669.60H334.60M320.40 665.60V673.60M334.60 665.60V673.60" stroke="#000" stroke-width="1.25" fill="none"/>
<text x="327.20" y="667.50" text-anchor="middle" class="s2" font-size="11.3">**</text>
<path d="M352.60 592.00H367.00M352.60 588.00V596.00M367.00 588.00V596.00" stroke="#000" stroke-width="1.25" fill="none"/>
<text x="359.50" y="589.90" text-anchor="middle" class="s2" font-size="11.3">***</text>
<path d="M378.00 592.00H392.40M378.00 588.00V596.00M392.40 588.00V596.00" stroke="#000" stroke-width="1.25" fill="none"/>
<text x="384.90" y="589.90" text-anchor="middle" class="s2" font-size="11.3">***</text>
<path d="M410.40 665.40H424.40M410.40 661.40V669.40M424.40 661.40V669.40" stroke="#000" stroke-width="1.25" fill="none"/>
<text x="417.10" y="663.30" text-anchor="middle" class="s2" font-size="11.3">***</text>
<path d="M435.60 665.40H449.60M435.60 661.40V669.40M449.60 661.40V669.40" stroke="#000" stroke-width="1.25" fill="none"/>
<text x="442.30" y="663.30" text-anchor="middle" class="s2" font-size="11.3">*</text>
<path d="M468.00 632.00H482.40M468.00 628.00V636.00M482.40 628.00V636.00" stroke="#000" stroke-width="1.25" fill="none"/>
<text x="474.90" y="629.90" text-anchor="middle" class="s2" font-size="11.3">***</text>
<path d="M493.00 632.00H507.40M493.00 628.00V636.00M507.40 628.00V636.00" stroke="#000" stroke-width="1.25" fill="none"/>
<text x="499.90" y="629.90" text-anchor="middle" class="s2" font-size="11.3">**</text>
<path d="M525.00 593.00H539.40M525.00 589.00V597.00M539.40 589.00V597.00" stroke="#000" stroke-width="1.25" fill="none"/>
<text x="531.90" y="590.90" text-anchor="middle" class="s2" font-size="11.3">***</text>
<path d="M550.00 593.00H564.40M550.00 589.00V597.00M564.40 589.00V597.00" stroke="#000" stroke-width="1.25" fill="none"/>
<text x="556.90" y="590.90" text-anchor="middle" class="s2" font-size="11.3">***</text>
<rect x="577" y="570.50" width="14" height="6.5" fill="#000000"/>
<text x="598.6" y="576.90" class="r" font-size="10.2">mimics+Vector</text>
<rect x="577" y="584.95" width="14" height="6.5" fill="#a0a0a4"/>
<text x="598.6" y="591.35" class="r" font-size="10.2">mimics+FOXC1</text>
<rect x="577" y="599.40" width="14" height="6.5" fill="#808080"/>
<text x="598.6" y="605.80" class="r" font-size="10.2">inhibitor+NC</text>
<rect x="577" y="613.85" width="14" height="6.5" fill="#d4d4d4"/>
<text x="598.6" y="620.25" class="r" font-size="10.2">inhibitor+si-FOXC1</text>
</svg>
</body></html>
